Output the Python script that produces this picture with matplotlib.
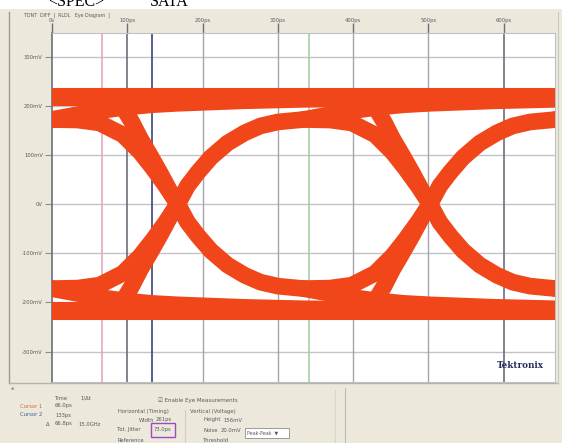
import matplotlib.pyplot as plt
from matplotlib.lines import Line2D
from matplotlib.patches import Rectangle

W, H = 562, 443

# eye diagram, upper half only: time from the crossing (ps), level (mV)
# the lower half is the mirror image of these traces
crossings_ps = [-168, 167, 502, 837]
rail_mv = 217

rise_t = [0, 13, 27, 44, 66, 89, 110, 133, 167]
rise_v = [0, 37, 65, 95, 124, 145, 159, 167, 172]
# bit stays high after the rise: keeps settling over the next UIs
settle_t = [167, 199, 232, 266, 300, 335, 420, 500, 600, 670]
settle_v = [172, 181, 190, 197, 202, 205, 210, 213, 215, 216]
slow_fall_t = [-167, -133, -104, -73, -50, -33, -16, 0]
slow_fall_v = [172, 171, 165, 141, 106, 73, 37, 0]
hard_fall_t = [-167, -100, -82, -72, -61, -50, -37, -24, -11, 0]
hard_fall_v = [217, 217, 211, 195, 167, 134, 100, 65, 28, 0]

x_ticks = [0, 100, 200, 300, 400, 500, 600]
x_labels = ['0s', '100ps', '200ps', '300ps', '400ps', '500ps', '600ps']
y_ticks = [300, 200, 100, 0, -100, -200, -300]
y_labels = ['300mV', '200mV', '100mV', '0V', '-100mV', '-200mV', '-300mV']
cursor_ps = [66, 133, 341]
cursor_colors = ['#E8A8B8', '#3C4478', '#A8D0A8']

trace_color = '#F0461A'
beige = '#ECE9DC'
gray_txt = '#5A5A5A'


def fx(x):
    return x / W


def fy(y):
    return 1 - y / H


def fig_line(x0, y0, x1, y1, color='#A8A89C', lw=0.8):
    fig.add_artist(Line2D([fx(x0), fx(x1)], [fy(y0), fy(y1)], color=color, lw=lw))


def label(x, y, s, **kw):
    opts = dict(fontsize=3.8, color=gray_txt, va='center', ha='left')
    opts.update(kw)
    fig.text(fx(x), fy(y), s, **opts)


fig = plt.figure(figsize=(W / 100, H / 100), dpi=100)
fig.patch.set_facecolor('white')
fig.add_artist(Rectangle((0, 0), 1, fy(9), transform=fig.transFigure,
                         facecolor=beige, edgecolor='none', zorder=-5))

# window borders
fig_line(9, 12, 9, 383, color='#9C9C94', lw=1.0)
fig_line(9, 383, 558, 383, color='#B4B4A8', lw=1.0)
fig_line(558, 12, 558, 383, color='#C8C8BC', lw=0.8)
fig_line(335, 390, 335, 443, color='#D8D6C8', lw=0.8)
fig_line(345, 388, 345, 443, color='#BDBBB0', lw=0.8)
fig_line(185, 410, 185, 443, color='#D0CEC0', lw=0.8)

ax = fig.add_axes([fx(52), fy(382), fx(555) - fx(52), fy(33) - fy(382)])
ax.set_facecolor('white')
ax.set_xlim(0, 668)
ax.set_ylim(-362, 348)

for v in y_ticks:
    ax.axhline(v, color='#C4C4C8', lw=1.0, zorder=1)
for t in x_ticks[1:]:
    dark = t in (100, 600)
    ax.axvline(t, color='#6E6E7A' if dark else '#A4A4AE', lw=1.2 if dark else 1.0, zorder=1)
for t, c in zip(cursor_ps, cursor_colors):
    ax.axvline(t, color=c, lw=1.2, zorder=1)

# rails
for sign in (1, -1):
    ax.axhline(sign * rail_mv, color=trace_color, lw=13, zorder=3)

# transitions around every crossing
for tc in crossings_ps:
    for sign in (1, -1):
        for tt, vv in [(rise_t, rise_v), (settle_t, settle_v),
                       (slow_fall_t, slow_fall_v), (hard_fall_t, hard_fall_v)]:
            ax.plot([tc + t for t in tt], [sign * v for v in vv], color=trace_color,
                    lw=12, solid_capstyle='round', solid_joinstyle='round', zorder=3)

ax.xaxis.tick_top()
ax.set_xticks(x_ticks)
ax.set_xticklabels(x_labels)
ax.set_yticks(y_ticks)
ax.set_yticklabels(y_labels)
ax.tick_params(axis='x', length=7, width=1, color='#6E6E7A', pad=0, labelsize=3.8, labelcolor=gray_txt)
ax.tick_params(axis='y', length=5, width=0.8, color='#8C8C8C', pad=1.5, labelsize=3.8, labelcolor=gray_txt)
for i, tk in enumerate(ax.yaxis.get_major_ticks()):
    if y_ticks[i] in (200, -200):
        tk.tick1line.set_color('#5CB4E0')
for side in ('top', 'right', 'bottom'):
    ax.spines[side].set_color('#C0C0C0')
ax.spines['left'].set_color('#6E6E7A')
ax.spines['left'].set_linewidth(1.2)

fig.text(fx(497), fy(365), 'Tektronix', fontsize=6.3, fontweight='bold',
         family='DejaVu Serif', color='#2A2A62', va='center')

# heading cut off at the top of the screenshot
fig.text(fx(48), fy(6), '<SPEC>', fontsize=11.5, family='Liberation Serif', va='baseline')
fig.text(fx(150), fy(6), 'SATA', fontsize=11.5, family='Liberation Serif', va='baseline')
label(24, 15, 'TDNT  DIFF  |  RLDL   Eye Diagram  |', fontsize=3.4)

# measurement panel
label(11, 390, '*', fontsize=5)
label(55, 398, 'Time')
label(80, 398, '1/\u0394t')
label(20, 406, 'Cursor 1', color='#D0643A')
label(55, 406, '66.0ps')
label(20, 415, 'Cursor 2', color='#44549E')
label(55, 415, '133ps')
label(46, 424, '\u0394')
label(55, 424, '66.8ps')
label(78, 424, '15.0GHz')
label(158, 400, '\u2611 Enable Eye Measurements', fontsize=4)
label(118, 411, 'Horizontal (Timing)')
label(190, 411, 'Vertical (Voltage)')
label(139, 420, 'Width')
label(156, 420, '261ps')
label(117, 430, 'Tot. Jitter')
label(154, 430, '73.0ps')
fig.add_artist(Rectangle((fx(151), fy(437)), fx(175) - fx(151), fy(423) - fy(437),
                         transform=fig.transFigure, facecolor='none',
                         edgecolor='#9A4CC0', lw=1.0))
label(203, 420, 'Height')
label(223, 420, '156mV')
label(203, 430, 'Noise')
label(221, 430, '20.0mV')
fig.add_artist(Rectangle((fx(245), fy(438)), fx(289) - fx(245), fy(428) - fy(438),
                         transform=fig.transFigure, facecolor='white',
                         edgecolor='#8C8C8C', lw=0.6))
label(247, 433, 'Peak-Peak  \u25bc', fontsize=3.4)
label(118, 441, 'Reference')
label(203, 441, 'Threshold')

fig.savefig('out.png', dpi=100)
